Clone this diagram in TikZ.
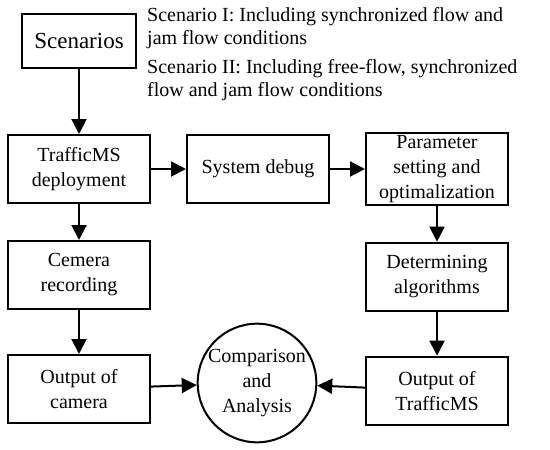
\documentclass[tikz,border=0pt]{standalone}
\usepackage{fontspec}
\setmainfont{Liberation Serif}
\usetikzlibrary{positioning, arrows.meta}

\begin{document}
\begin{tikzpicture}[
    x=1pt, y=-1pt,
    >={Triangle[length=15pt, width=15pt]},
    every node/.style={font=\fontsize{20}{25}\selectfont},
    block/.style={draw=black, line width=2pt, minimum width=142pt,
                  minimum height=68pt, align=center, inner sep=2pt},
    hub/.style={draw=black, circle, line width=2pt, minimum size=114pt,
                align=center, inner sep=0pt},
    arrow/.style={->, line width=2pt, color=black},
    note/.style={font=\fontsize{20}{23}\selectfont, align=left, inner sep=0pt},
]
\useasboundingbox (0,0) rectangle (550,450);
\node[block, minimum width=114pt, minimum height=54pt, font=\fontsize{23}{27}\selectfont] (n_1) at (79,41) {Scenarios};
\node[block, below=65pt of n_1] (n_2) {TrafficMS\\deployment};
\node[block, right=35pt of n_2] (n_3) {System debug};
\node[block, right=35pt of n_3] (n_4) {Parameter\\setting and\\optimalization};
\node[block, below=36pt of n_2] (n_5) {Cemera\\recording};
\node[block, below=36pt of n_4] (n_6) {Determining\\algorithms};
\node[block, below=44pt of n_5] (n_7) {Output of\\camera};
\node[block, below=44pt of n_6] (n_8) {Output of\\TrafficMS};
\node[hub] (n_9) at (257,383) {Comparison\\and\\Analysis};
\node[note, anchor=north west] (n_10) at (147,7) {Scenario I: Including synchronized flow and\\jam flow conditions};
\node[note, below=10pt of n_10.south west, anchor=north west] (n_11) {Scenario II: Including free-flow, synchronized\\flow and jam flow conditions};
\draw[arrow] (n_1) -- (n_2);
\draw[arrow] (n_2) -- (n_3);
\draw[arrow] (n_3) -- (n_4);
\draw[arrow] (n_2) -- (n_5);
\draw[arrow] (n_4) -- (n_6);
\draw[arrow] (n_5) -- (n_7);
\draw[arrow] (n_6) -- (n_8);
\draw[arrow] (n_7) -- (n_9);
\draw[arrow] (n_8) -- (n_9);
\end{tikzpicture}
\end{document}
